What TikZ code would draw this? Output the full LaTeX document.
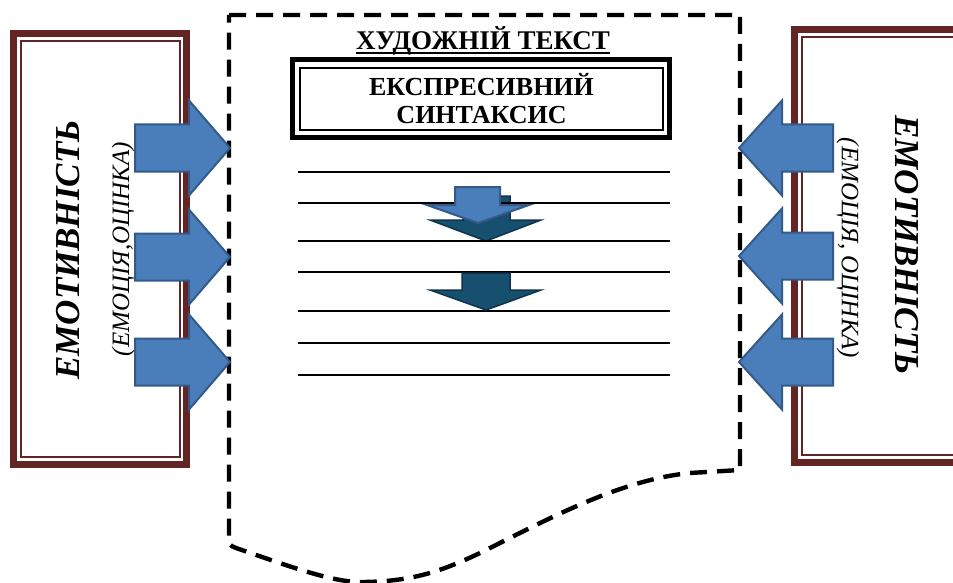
\documentclass[tikz,border=0pt]{standalone}
\usepackage{fontspec}
\setmainfont{Liberation Serif}
\begin{document}
\begin{tikzpicture}[x=1pt,y=-1pt,
  dred/.style={draw={rgb,255:red,99;green,37;blue,35}},
  outerframe/.style={dred,line width=7pt,rectangle,inner sep=0pt},
  innerframe/.style={dred,line width=1.5pt,rectangle,inner sep=0pt},
  blockarrow/.style={fill={rgb,255:red,74;green,126;blue,187},draw={rgb,255:red,52;green,90;blue,138},line width=2pt,line join=miter},
  darkarrow/.style={fill={rgb,255:red,22;green,80;blue,110},draw={rgb,255:red,16;green,50;blue,76},line width=1.5pt,line join=miter},
  pageline/.style={draw=black,line width=4.4pt,dash pattern=on 17pt off 10pt},
  rule/.style={draw=black,line width=1.8pt},
  bigtxt/.style={font=\fontsize{35}{38}\selectfont\bfseries\itshape,inner sep=0pt},
  smalltxt/.style={font=\fontsize{25}{27}\selectfont\itshape,inner sep=0pt}]
\useasboundingbox (0,0) rectangle (953,583);
\fill[white] (0,0) rectangle (953,583);

% left frame
\node[outerframe,minimum width=173pt,minimum height=431pt] (lbox) at (100,249) {};
\node[innerframe,minimum width=159pt,minimum height=416pt] (lin) at (100.5,249) {};
\node[bigtxt,rotate=90] (lbig) at (68,250) {ЕМОТИВНІСТЬ};
\node[smalltxt,rotate=90] (lsmall) at (123,249) {(ЕМОЦІЯ,ОЦІНКА)};

% right frame
\node[outerframe,minimum width=205pt,minimum height=433pt] (rbox) at (897,246) {};
\node[innerframe,minimum width=190pt,minimum height=418pt] (rin) at (897,246) {};
\node[bigtxt,rotate=-90] (rbig) at (907,245) {ЕМОТИВНІСТЬ};
\node[smalltxt,rotate=-90] (rsmall) at (848,248) {(ЕМОЦІЯ, ОЦІНКА)};

% page
\draw[pageline] (229,15) -- (740,15) -- (740,470) -- (690,473)
  .. controls (620,480) and (550,518) .. (480,553)
  .. controls (440,572) and (410,582) .. (360,582)
  .. controls (330,582) and (280,563) .. (236,548)
  .. controls (229,545) .. (229,538) -- cycle;

% title
\node[font=\fontsize{27}{29}\selectfont\bfseries,inner sep=0pt,anchor=base] (title) at (483,50) {ХУДОЖНІЙ ТЕКСТ};
\draw[line width=2pt] ([yshift=-3.5pt]title.base west) -- ([yshift=-3.5pt]title.base east);

% syntax box
\node[draw=black,line width=5pt,minimum width=377pt,minimum height=78pt,inner sep=0pt] (synout) at (481,98.5) {};
\node[draw=black,line width=2pt,minimum width=363pt,minimum height=62pt,inner sep=0pt,align=center,
  font=\fontsize{26}{28}\selectfont\bfseries] (syn) at (481.5,99) {ЕКСПРЕСИВНИЙ\\СИНТАКСИС};

% dark shadow arrow behind the first arrow
\draw[darkarrow] (463,196) -- (510,196) -- (510,220) -- (541,220) -- (486,241) -- (430,220) -- (463,220) -- cycle;

% ruled lines
\foreach \yy in {172,203,241,272,311,343,375}
  \draw[rule] (298,\yy) -- (670,\yy);

% light arrow
\draw[blockarrow] (455,187) -- (500,187) -- (500,205) -- (529,205) -- (478,223) -- (427,205) -- (455,205) -- cycle;

% second dark arrow
\draw[darkarrow] (462,273) -- (510,273) -- (510,290) -- (541,290) -- (486,310) -- (430,290) -- (462,290) -- cycle;

% side arrows
\foreach \c in {148,257,362}
  \draw[blockarrow] (135,\c-23.5) -- (189,\c-23.5) -- (189,\c-47.5) -- (230,\c) -- (189,\c+47.5) -- (189,\c+23.5) -- (135,\c+23.5) -- cycle;
\foreach \c in {148,256,362}
  \draw[blockarrow] (833,\c-23.5) -- (782,\c-23.5) -- (782,\c-47.5) -- (739,\c) -- (782,\c+47.5) -- (782,\c+23.5) -- (833,\c+23.5) -- cycle;
\end{tikzpicture}
\end{document}
